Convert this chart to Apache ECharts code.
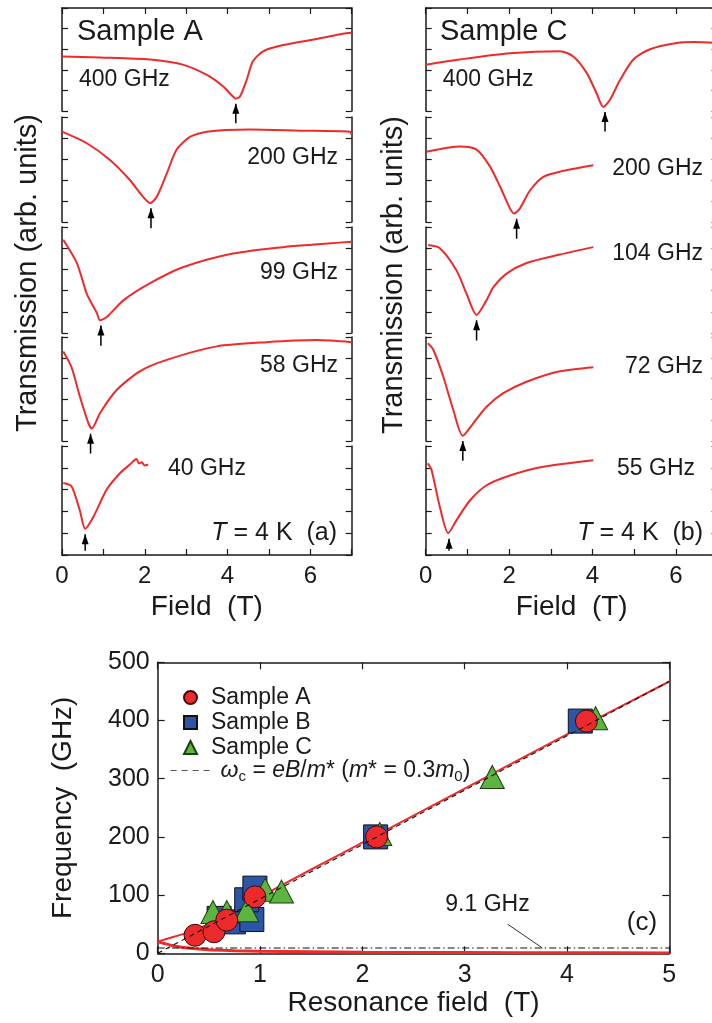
<!DOCTYPE html>
<html>
<head>
<meta charset="utf-8">
<script src="https://cdn.jsdelivr.net/npm/echarts@6/dist/echarts.min.js"></script>
<style>
  html, body { margin: 0; padding: 0; overflow: hidden; background: #fff; }
  #chart { width: 730px; height: 1023px; }
</style>
</head>
<body>
<div id="chart"></div>
<script>
// ---- Transmission sweeps: [field (T), transmission (arb., 0-1 within each strip)] ----
// Sample A
const traceA400 = [[0,0.53],[0.92,0.52],[2.13,0.50],[2.92,0.45],[3.50,0.35],[3.89,0.24],[4.13,0.14],[4.20,0.12],[4.30,0.14],[4.46,0.30],[4.61,0.48],[4.86,0.58],[5.34,0.64],[6.16,0.70],[6.79,0.75],[7.0,0.76]];
const traceA200 = [[0,0.86],[0.60,0.75],[1.16,0.59],[1.64,0.40],[1.96,0.24],[2.13,0.18],[2.29,0.24],[2.53,0.46],[2.77,0.69],[3.09,0.81],[3.50,0.86],[4.54,0.88],[5.75,0.87],[6.96,0.86],[7.0,0.83]];
const traceA99  = [[0.03,0.88],[0.36,0.66],[0.60,0.37],[0.84,0.19],[0.92,0.12],[1.08,0.15],[1.49,0.31],[2.13,0.47],[2.92,0.62],[4.13,0.75],[5.34,0.81],[7.0,0.86]];
const traceA58  = [[0.03,0.86],[0.23,0.71],[0.43,0.43],[0.64,0.17],[0.72,0.12],[0.92,0.27],[1.32,0.49],[1.88,0.67],[2.53,0.78],[3.74,0.91],[4.94,0.95],[6.15,0.97],[7.0,0.95]];
const traceA40  = [[0.03,0.66],[0.23,0.63],[0.43,0.41],[0.56,0.24],[0.76,0.35],[1.08,0.60],[1.40,0.75],[1.64,0.83],[1.80,0.88],[1.86,0.84],[1.93,0.85],[2.00,0.82],[2.08,0.83]];
// Sample C
const traceC400 = [[0,0.45],[0.82,0.50],[2.02,0.56],[3.22,0.58],[3.54,0.53],[3.86,0.37],[4.10,0.17],[4.26,0.04],[4.42,0.11],[4.66,0.30],[4.98,0.50],[5.38,0.60],[6.02,0.66],[6.42,0.67],[7.0,0.66]];
const traceC200 = [[0.02,0.67],[0.82,0.72],[1.22,0.69],[1.54,0.53],[1.78,0.34],[2.02,0.13],[2.12,0.08],[2.26,0.13],[2.50,0.30],[2.82,0.43],[3.22,0.48],[4.02,0.54]];
const traceC104 = [[0.06,0.83],[0.34,0.80],[0.74,0.59],[0.98,0.37],[1.22,0.17],[1.46,0.31],[1.62,0.43],[1.94,0.56],[2.42,0.66],[3.22,0.74],[4.02,0.81]];
const traceC72  = [[0.05,0.94],[0.18,0.88],[0.42,0.62],[0.66,0.30],[0.89,0.05],[1.14,0.17],[1.46,0.33],[1.86,0.46],[2.42,0.57],[3.22,0.67],[4.02,0.71]];
const traceC55  = [[0.05,0.84],[0.14,0.78],[0.34,0.44],[0.54,0.20],[0.74,0.32],[1.06,0.50],[1.46,0.64],[2.02,0.73],[2.82,0.81],[4.02,0.87]];

// Resonance fields marked by arrows (T)
const resonanceA = [4.20, 2.15, 0.94, 0.69, 0.56];
const resonanceC = [4.30, 2.18, 1.22, 0.89, 0.56];

// Strip labels
const freqLabelsA = ['400 GHz', '200 GHz', '99 GHz', '58 GHz', '40 GHz'];
const freqLabelsC = ['400 GHz', '200 GHz', '104 GHz', '72 GHz', '55 GHz'];

// ---- Resonance frequency vs field: [field (T), frequency (GHz)] ----
const sampleA = [[0.365,31],[0.55,37],[0.675,57],[0.95,97],[2.14,200],[4.19,399]];
const sampleB = [[0.60,60],[0.74,54],[0.92,58],[0.87,92],[0.95,112],[2.13,200],[4.13,399]];
const sampleC = [[0.54,71],[0.675,71],[0.87,74],[1.05,109],[1.21,106],[2.17,205],[3.27,303],[4.28,404]];
const upperBranch = [[0,20],[0.15,28],[0.3,36],[0.5,50],[0.75,72],[1,97],[1.5,144],[2,190],[3,283],[4,376],[5,467]];
const lowerBranch = [[0,20],[0.15,13],[0.3,9],[0.5,6],[0.75,4.5],[1,3.5],[2,1.8],[3,1.2],[4,0.9],[5,0.7]];
const cyclotronLine = [[0,0],[5,467]];
const refFreq = 9.1;

// ---- styling / layout ----
const FONT = '"Liberation Sans", Arial, Helvetica, sans-serif';
const INK = '#1a1a1a';
const RED = '#ee2a2a';
const strips = [
  { top: 8,   height: 103 },
  { top: 117, height: 105 },
  { top: 227, height: 106 },
  { top: 337, height: 104 },
  { top: 446, height: 109 }
];
const columns = [
  { left: 62,    width: 289.7, traces: [traceA400, traceA200, traceA99, traceA58, traceA40], arrows: resonanceA },
  { left: 425.7, width: 291.9, traces: [traceC400, traceC200, traceC104, traceC72, traceC55], arrows: resonanceC }
];

const grid = [], xAxis = [], yAxis = [], series = [];
const frameLine = { show: true, onZero: false, lineStyle: { color: INK, width: 1.5 } };
const innerTick = (len) => ({ show: true, inside: true, length: len, lineStyle: { color: INK, width: 1.2 } });

columns.forEach(col => {
  strips.forEach((s, r) => {
    const gi = grid.length;
    const last = r === strips.length - 1;
    grid.push({ left: col.left, top: s.top, width: col.width, height: s.height });

    const xi = xAxis.length;
    xAxis.push({
      gridIndex: gi, type: 'value', min: 0, max: 7, interval: 1, position: 'bottom',
      axisLine: last ? frameLine : { show: false },
      axisTick: last ? innerTick(6) : { show: false },
      axisLabel: { show: last, margin: 9, fontSize: 24, color: INK, fontFamily: FONT,
                   formatter: v => (v % 2 === 0 ? String(v) : '') },
      splitLine: { show: false },
      name: last ? 'Field  (T)' : '', nameLocation: 'middle', nameGap: 38,
      nameTextStyle: { fontSize: 28, color: INK, fontFamily: FONT }
    });
    if (r === 0) {
      xAxis.push({
        gridIndex: gi, type: 'value', min: 0, max: 7, interval: 1, position: 'top',
        axisLine: frameLine, axisTick: innerTick(6), axisLabel: { show: false }, splitLine: { show: false }
      });
    }
    const yi = yAxis.length;
    ['left', 'right'].forEach(pos => yAxis.push({
      gridIndex: gi, type: 'value', min: 0, max: 1, interval: 0.2, position: pos,
      axisLine: frameLine, axisTick: innerTick(6), axisLabel: { show: false }, splitLine: { show: false }
    }));

    const trace = col.traces[r];
    series.push({
      type: 'line', xAxisIndex: xi, yAxisIndex: yi, data: trace,
      smooth: 0.25, symbol: 'none', lineStyle: { color: RED, width: 2 }, silent: true, z: 3
    });

    // arrow just under the trough, pointing up at the resonance field
    const trough = Math.min(...trace.map(p => p[1]));
    const tip = trough - 0.05;
    const tail = last ? Math.max(tip - 0.19, 0.04) : tip - 0.19;
    series.push({
      type: 'line', xAxisIndex: xi, yAxisIndex: yi, clip: false, silent: true, z: 4,
      showSymbol: true,
      data: [
        { value: [col.arrows[r], tail], symbol: 'none' },
        { value: [col.arrows[r], tip], symbol: 'triangle', symbolSize: [7, 10], symbolOffset: [0, '50%'] }
      ],
      lineStyle: { color: '#000', width: 1.5 }, itemStyle: { color: '#000' }
    });
  });
});

// ---- frequency panel ----
const gc = grid.length;
grid.push({ left: 157.7, top: 662.3, width: 511.6, height: 291 });
const xc = xAxis.length;
xAxis.push({
  gridIndex: gc, type: 'value', min: 0, max: 5, interval: 1, position: 'bottom',
  axisLine: frameLine, axisTick: innerTick(7),
  axisLabel: { margin: 9, fontSize: 25, color: INK, fontFamily: FONT },
  splitLine: { show: false },
  name: 'Resonance field  (T)', nameLocation: 'middle', nameGap: 36,
  nameTextStyle: { fontSize: 28, color: INK, fontFamily: FONT }
});
xAxis.push({
  gridIndex: gc, type: 'value', min: 0, max: 5, interval: 1, position: 'top',
  axisLine: frameLine, axisTick: innerTick(7), axisLabel: { show: false }, splitLine: { show: false }
});
const yc = yAxis.length;
yAxis.push({
  gridIndex: gc, type: 'value', min: 0, max: 500, interval: 100, position: 'left',
  axisLine: frameLine, axisTick: innerTick(7),
  axisLabel: { margin: 8, fontSize: 25, color: INK, fontFamily: FONT },
  splitLine: { show: false },
  name: 'Frequency  (GHz)', nameLocation: 'middle', nameGap: 80,
  nameTextStyle: { fontSize: 28, color: INK, fontFamily: FONT }
});
yAxis.push({
  gridIndex: gc, type: 'value', min: 0, max: 500, interval: 100, position: 'right',
  axisLine: frameLine, axisTick: innerTick(7), axisLabel: { show: false }, splitLine: { show: false }
});

const onC = { xAxisIndex: xc, yAxisIndex: yc };
series.push(
  Object.assign({ type: 'line', data: upperBranch, smooth: 0.3, symbol: 'none', lineStyle: { color: RED, width: 2 }, z: 2, silent: true }, onC),
  Object.assign({ type: 'line', data: lowerBranch, smooth: 0.3, symbol: 'none', lineStyle: { color: RED, width: 3 }, z: 2, silent: true }, onC),
  Object.assign({ type: 'line', data: [[0, refFreq], [5, refFreq]], symbol: 'none',
    lineStyle: { color: '#111', width: 1, type: [7, 3, 1.5, 3] }, z: 3, silent: true }, onC),
  Object.assign({ type: 'line', data: [[3.42, 50], [3.76, refFreq]], symbol: 'none',
    lineStyle: { color: '#333', width: 1 }, z: 3, silent: true }, onC),
  Object.assign({ type: 'scatter', name: 'Sample B', data: sampleB, symbol: 'rect', symbolSize: 24,
    itemStyle: { color: '#2b55a6', borderColor: '#111', borderWidth: 1, opacity: 1 }, z: 4 }, onC),
  Object.assign({ type: 'scatter', name: 'Sample C', data: sampleC, symbol: 'triangle', symbolSize: [24, 23],
    itemStyle: { color: '#5db43f', borderColor: '#1d3d12', borderWidth: 1, opacity: 1 }, z: 5 }, onC),
  Object.assign({ type: 'scatter', name: 'Sample A', data: sampleA, symbol: 'circle', symbolSize: 22,
    itemStyle: { color: '#ec2a2c', borderColor: '#3a0a0a', borderWidth: 1, opacity: 1 }, z: 6 }, onC),
  Object.assign({ type: 'line', name: 'cyclotron', data: cyclotronLine, symbol: 'none',
    itemStyle: { color: '#111' },
    lineStyle: { color: '#111', width: 1.1, type: [5, 4] }, z: 7, silent: true }, onC)
);

// ---- text annotations ----
const labelPos = [
  [ { x: 79, y: 80, align: 'left' }, { x: 338, y: 158, align: 'right' }, { x: 338, y: 273, align: 'right' },
    { x: 338, y: 366, align: 'right' }, { x: 168, y: 469, align: 'left' } ],
  [ { x: 442.7, y: 80, align: 'left' }, { x: 703, y: 169, align: 'right' }, { x: 703, y: 254, align: 'right' },
    { x: 703, y: 367, align: 'right' }, { x: 695, y: 469, align: 'right' } ]
];
const txt = (x, y, text, size, align, extra) => ({
  type: 'text', x: x, y: y, silent: true, z: 100,
  style: Object.assign({ text: text, fill: INK, fontSize: size, fontFamily: FONT,
    align: align || 'center', verticalAlign: 'middle' }, extra || {})
});
const graphic = [];
[freqLabelsA, freqLabelsC].forEach((labels, c) => labels.forEach((t, r) => {
  const p = labelPos[c][r];
  graphic.push(txt(p.x, p.y, t, 23, p.align));
}));
graphic.push(txt(77, 32, 'Sample A', 29, 'left'));
graphic.push(txt(440, 32, 'Sample C', 29, 'left'));
const tempRich = { i: { fontStyle: 'italic', fontSize: 25, fontFamily: FONT, fill: INK } };
graphic.push(txt(337, 533, '{i|T} = 4 K  (a)', 25, 'right', { rich: tempRich }));
graphic.push(txt(703, 533, '{i|T} = 4 K  (b)', 25, 'right', { rich: tempRich }));
graphic.push(Object.assign(txt(28, 273, 'Transmission (arb. units)', 29), { rotation: Math.PI / 2 }));
graphic.push(Object.assign(txt(394, 275, 'Transmission (arb. units)', 29), { rotation: Math.PI / 2 }));
graphic.push(txt(487.5, 905, refFreq + ' GHz', 23));
graphic.push(txt(642, 923, '(c)', 26));

const legendText = { fontSize: 23, color: INK, fontFamily: FONT, padding: [0, 0, 0, 9] };
const chart = echarts.init(document.getElementById('chart'), null, { renderer: 'canvas' });
chart.setOption({
  animation: false,
  backgroundColor: '#fff',
  grid, xAxis, yAxis, series, graphic,
  legend: [
    {
      data: ['Sample A', 'Sample B', 'Sample C'],
      orient: 'vertical', left: 178, top: 681, itemWidth: 13, itemHeight: 13, itemGap: 2,
      selectedMode: false, textStyle: Object.assign({ lineHeight: 23 }, legendText)
    },
    {
      data: ['cyclotron'],
      orient: 'vertical', left: 165, top: 754, itemWidth: 40, itemHeight: 12,
      selectedMode: false,
      itemStyle: { color: 'rgba(0,0,0,0)', borderColor: 'rgba(0,0,0,0)', borderWidth: 0 },
      lineStyle: { color: '#555', width: 1.2, type: [6, 5] },
      formatter: () => '{i|ω}{s|c} = {i|eB}/{i|m}* ({i|m}* = 0.3{i|m}{s|0})',
      textStyle: Object.assign({}, legendText, { padding: [0, 0, 0, 5], rich: {
        i: { fontStyle: 'italic', fontSize: 23, fontFamily: FONT, color: INK },
        s: { fontSize: 15, fontFamily: FONT, color: INK, padding: [12, 0, 0, 0] }
      } })
    }
  ]
});
</script>
</body>
</html>
